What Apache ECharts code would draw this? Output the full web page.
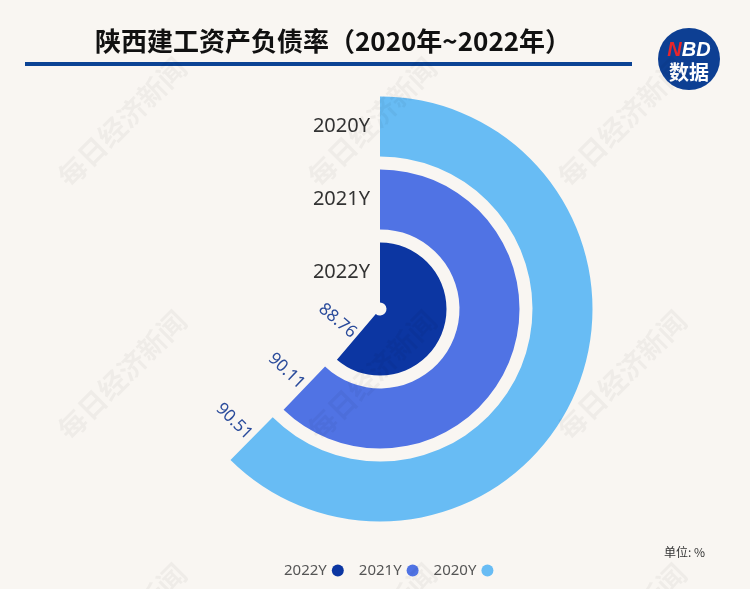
<!DOCTYPE html>
<html>
<head>
<meta charset="utf-8">
<script src="https://cdn.jsdelivr.net/npm/echarts@6/dist/echarts.min.js"></script>
<style>
html,body{margin:0;padding:0;background:#f9f6f2;}
#main{width:750px;height:589px;}
</style>
</head>
<body>
<div id="main"></div>
<script>
const categories = ['2022Y', '2021Y', '2020Y'];
const values = [88.76, 90.11, 90.51];
const legendNames = ['2022Y', '2021Y', '2020Y'];
const colors = ['#0c36a2', '#5073e4', '#68bcf4'];
const angleMax = 145;

const chart = echarts.init(document.getElementById('main'));

const series = categories.map((c, i) => {
  const theta = values[i] / angleMax * 360;
  return {
    name: c,
    type: 'bar',
    coordinateSystem: 'polar',
    stack: 'total',
    barWidth: 60,
    data: categories.map((cc, j) => (j === i ? values[i] : '-')),
    itemStyle: { color: colors[i] },
    label: {
      show: true,
      position: 'end',
      distance: 3,
      rotate: (180 - theta) * Math.PI / 180,
      align: 'right',
      verticalAlign: 'middle',
      color: '#2a4b9b',
      fontSize: 17,
      fontFamily: 'Noto Sans',
      formatter: '{c}'
    }
  };
});

const wm = [];
[122, 372, 622].forEach(x => {
  [122, 375, 628].forEach(y => {
    wm.push({
      type: 'text', x: x, y: y, rotation: Math.PI / 4, z: 100,
      style: {
        text: '每日经济新闻', fill: 'rgba(0,0,0,0.04)',
        font: 'bold 28px "Noto Sans CJK SC"', align: 'center', verticalAlign: 'middle'
      }
    });
  });
});

chart.setOption({
  backgroundColor: '#f9f6f2',
  title: {
    text: '陕西建工资产负债率（2020年~2022年）',
    left: 90, top: 23,
    textStyle: { fontSize: 26, fontWeight: 'bold', color: '#111', fontFamily: 'Noto Sans CJK SC' }
  },
  polar: { center: [380, 309], radius: [0, 219] },
  angleAxis: {
    type: 'value', min: 0, max: angleMax, startAngle: 90, clockwise: true,
    show: false
  },
  radiusAxis: {
    type: 'category', data: categories,
    axisLine: { show: false }, axisTick: { show: false },
    axisLabel: { color: '#333', fontSize: 20, fontFamily: 'Noto Sans', margin: 10, interval: 0 }
  },
  legend: {
    data: legendNames, bottom: 6, left: 279, align: 'right',
    icon: 'circle', itemWidth: 12, itemHeight: 12, itemGap: 15,
    textStyle: { color: '#555', fontSize: 15, fontFamily: 'Noto Sans' }
  },
  graphic: [
    { type: 'rect', shape: { x: 25, y: 62, width: 607, height: 4 }, style: { fill: '#0b4394' } },
    { type: 'circle', shape: { cx: 689, cy: 59, r: 31 }, style: { fill: '#0d3f93' } },
    { type: 'text', x: 689, y: 50, style: {
        text: '{n|N}{w|BD}', align: 'center', verticalAlign: 'middle',
        rich: {
          n: { font: 'bold italic 20px "Liberation Sans"', fill: '#e8262b' },
          w: { font: 'bold italic 20px "Liberation Sans"', fill: '#ffffff' }
        }
      } },
    { type: 'text', x: 689, y: 72, style: { text: '数据', font: 'bold 20px "Noto Sans CJK SC"', fill: '#fff', align: 'center', verticalAlign: 'middle' } },
    { type: 'text', x: 705, y: 552, style: { text: '单位: %', font: '12px "Noto Sans CJK SC"', fill: '#333', align: 'right', verticalAlign: 'middle' } }
  ].concat(wm),
  series: series
});
</script>
</body>
</html>
